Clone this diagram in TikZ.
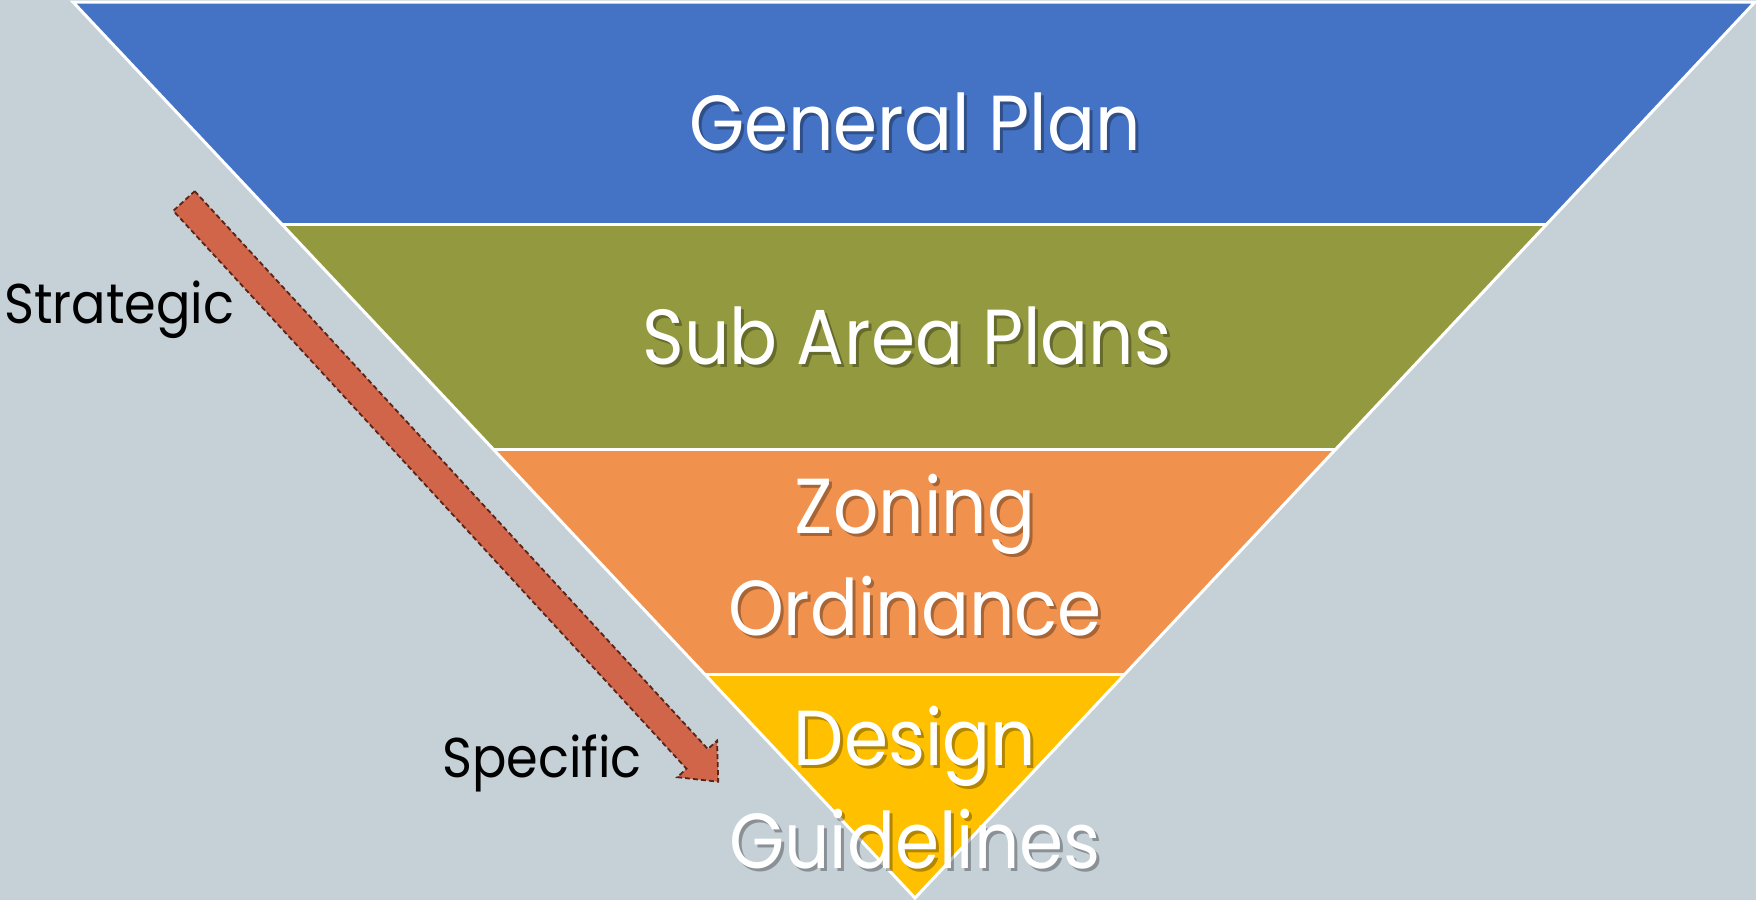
\documentclass[tikz,border=0pt]{standalone}
\usepackage{fontspec}
\setmainfont{Poppins}
\definecolor{bgc}{HTML}{C5D1D7}
\definecolor{blueb}{HTML}{4472C4}
\definecolor{oliveb}{HTML}{93993E}
\definecolor{orangeb}{HTML}{F0914E}
\definecolor{goldb}{HTML}{FFC000}
\definecolor{arrowc}{HTML}{D0654A}
\definecolor{arrowd}{HTML}{5A2418}
\begin{document}
\begin{tikzpicture}[x=1pt,y=-1pt,
  band/.style={line width=3pt,draw=white,line join=miter},
  lbl/.style={text=white,anchor=base,inner sep=0pt,font=\fontsize{78}{90}\selectfont},
  shd/.style={text=black,opacity=0.3,anchor=base,inner sep=0pt,font=\fontsize{78}{90}\selectfont},
  side/.style={text=black,anchor=base west,inner sep=0pt,font=\fontsize{56}{64}\selectfont}]
\useasboundingbox (0,0) rectangle (1756,900);
\fill[bgc] (0,0) rectangle (1756,900);
% funnel
\coordinate (TL) at (73,2);
\coordinate (TR) at (1755,2);
\coordinate (AP) at (915,898);
\begin{scope}
\clip (TL) -- (TR) -- (AP) -- cycle;
\fill[blueb] (0,0) rectangle (1756,224);
\fill[oliveb] (0,224) rectangle (1756,449);
\fill[orangeb] (0,449) rectangle (1756,674);
\fill[goldb] (0,674) rectangle (1756,900);
\draw[white,line width=3pt] (0,224) -- (1756,224);
\draw[white,line width=3pt] (0,449) -- (1756,449);
\draw[white,line width=3pt] (0,674) -- (1756,674);
\end{scope}
\draw[band] (TL) -- (TR) -- (AP) -- cycle;
% arrow
\draw[fill=arrowc,draw=arrowd,line width=1.8pt,dash pattern=on 5pt off 3pt]
  (194.7,191.2) -- (707.9,749.1) -- (717.1,740.6) -- (718.2,781.7) -- (677.3,777.2) -- (686.5,768.7) -- (173.3,210.8) -- cycle;
% labels with shadows
\foreach \t/\xx/\yy/\nm in {General Plan/915/150/gp, Sub Area Plans/907/364/sap, Zoning/915/533/zo, Ordinance/915/635/or, Design/915/765/de, Guidelines/915/868/gu}{
  \node[shd] at (\xx+3,\yy+3) {\scalebox{0.91}[1]{\t}};
  \node[lbl] (\nm) at (\xx,\yy) {\scalebox{0.91}[1]{\t}};
}
\node[side] (st) at (4,323) {\scalebox{0.91}[1]{Strategic}};
\node[side] (sp) at (442,777) {\scalebox{0.91}[1]{Specific}};
\end{tikzpicture}
\end{document}
